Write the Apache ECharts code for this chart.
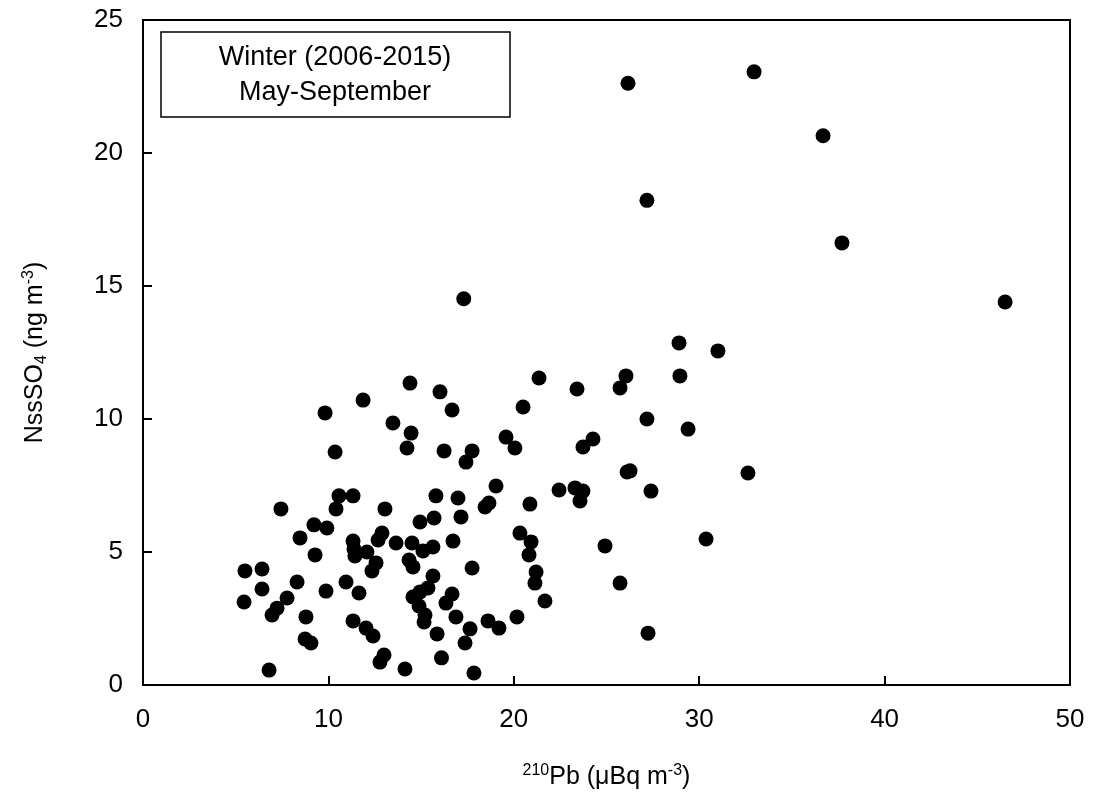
<!DOCTYPE html>
<html><head><meta charset="utf-8">
<script src="https://cdn.jsdelivr.net/npm/echarts@6/dist/echarts.min.js"></script>
<style>html,body{margin:0;padding:0;background:#fff}#c{width:1095px;height:805px}</style>
</head><body><div id="c"></div>
<script>
var pb = [14.40,11.87,9.82,13.48,14.46,14.24,10.36,10.57,11.33,10.41,7.44,13.05,15.80,15.70,14.94,9.22,9.92,8.47,12.89,12.68,11.33,13.65,14.51,11.38,12.08,11.43,15.10,15.64,9.28,14.35,12.57,14.56,12.35,5.50,6.42,15.64,8.31,10.95,6.42,9.87,11.65,15.37,14.94,14.56,7.77,5.45,7.23,14.89,6.96,8.79,15.21,15.16,11.33,12.03,12.41,15.86,8.74,9.06,13.00,12.78,6.80,14.13,16.10,
16.02,16.67,21.36,23.41,25.73,20.50,16.24,17.75,17.42,19.58,20.06,24.27,23.73,19.04,16.99,18.66,18.45,20.87,22.44,23.30,23.73,23.57,17.15,16.72,20.33,20.93,20.82,24.92,17.75,21.20,21.14,21.68,25.73,16.67,16.34,16.88,18.61,19.20,20.17,17.64,17.37,17.85,
28.91,31.01,26.05,28.96,27.18,29.40,26.27,26.11,27.40,32.63,30.37,27.24,
26.16,32.96,36.68,27.18,37.70,46.50,17.30];
var nss = [11.35,10.71,10.23,9.85,9.47,8.91,8.76,7.11,7.11,6.62,6.62,6.62,7.11,6.28,6.13,6.02,5.90,5.53,5.71,5.45,5.41,5.34,5.34,5.11,5.00,4.85,5.04,5.19,4.89,4.70,4.59,4.44,4.29,4.29,4.36,4.10,3.87,3.87,3.61,3.53,3.46,3.65,3.50,3.31,3.27,3.12,2.89,2.97,2.63,2.56,2.63,2.37,2.41,2.14,1.84,1.92,1.73,1.58,1.13,0.86,0.56,0.60,1.02,
11.02,10.34,11.54,11.13,11.17,10.45,8.80,8.80,8.38,9.32,8.91,9.25,8.95,7.48,7.03,6.84,6.69,6.80,7.33,7.41,7.29,6.92,6.32,5.41,5.71,5.38,4.89,5.23,4.40,4.25,3.83,3.16,3.83,3.42,3.08,2.56,2.41,2.14,2.56,2.11,1.58,0.45,
12.86,12.56,11.62,11.62,10.00,9.62,8.05,8.01,7.29,7.97,5.49,1.95,
22.62,23.05,20.65,18.22,16.62,14.40,14.52];
var legendLines = ['Winter (2006-2015)', 'May-September'];
var data = pb.map(function(x,i){return [x,nss[i]];});
var chart = echarts.init(document.getElementById('c'));
var F = 'Liberation Sans, Arial, sans-serif';
chart.setOption({
  animation:false,
  grid:{left:143,right:25,top:20,bottom:120},
  xAxis:{type:'value',min:0,max:50,interval:10,
    axisLine:{show:true,lineStyle:{color:'#000',width:2}},
    axisTick:{show:true,inside:true,length:9,lineStyle:{color:'#000',width:2}},
    axisLabel:{color:'#000',fontSize:26,fontFamily:F,margin:22},
    splitLine:{show:false},
    name:'{sup|210}{n|Pb (μBq m}{sup|-3}{n|)}',nameLocation:'middle',nameGap:78,
    nameTextStyle:{rich:{n:{fontSize:25,fontFamily:F,color:'#000'},sup:{fontSize:16,fontFamily:F,color:'#000',padding:[0,0,13,0]}}}
  },
  yAxis:{type:'value',min:0,max:25,interval:5,
    axisLine:{show:true,lineStyle:{color:'#000',width:2}},
    axisTick:{show:true,inside:true,length:9,lineStyle:{color:'#000',width:2}},
    axisLabel:{color:'#000',fontSize:26,fontFamily:F,margin:20},
    splitLine:{show:false},
    name:'{n|NssSO}{sub|4}{n| (ng m}{sup|-3}{n|)}',nameLocation:'middle',nameGap:93,
    nameTextStyle:{rich:{n:{fontSize:25,fontFamily:F,color:'#000'},sub:{fontSize:16,fontFamily:F,color:'#000',padding:[13,0,0,0]},sup:{fontSize:16,fontFamily:F,color:'#000',padding:[0,0,13,0]}}}
  },
  graphic:[
    {type:'rect',shape:{x:143,y:20,width:927,height:665},style:{fill:'none',stroke:'#000',lineWidth:2},z:0},
    {type:'rect',shape:{x:161,y:32,width:349,height:85},style:{fill:'#fff',stroke:'#000',lineWidth:1.5},z:10},
    {type:'text',x:335,y:58,style:{text:legendLines[0],font:'27px '+F,fill:'#000',textAlign:'center',textVerticalAlign:'middle'},z:11},
    {type:'text',x:335,y:93,style:{text:legendLines[1],font:'27px '+F,fill:'#000',textAlign:'center',textVerticalAlign:'middle'},z:11}
  ],
  series:[{type:'scatter',data:data,symbolSize:15,itemStyle:{color:'#000',opacity:1}}]
});
</script></body></html>
